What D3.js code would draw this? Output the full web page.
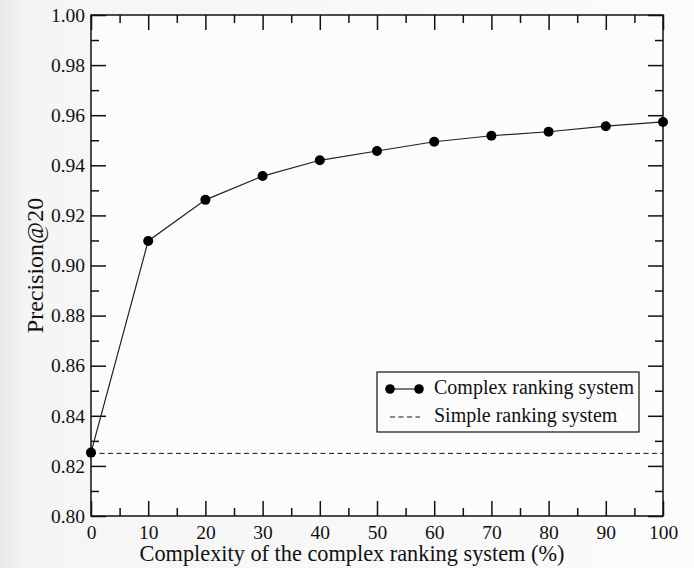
<!DOCTYPE html>
<html>
<head>
<meta charset="utf-8">
<script src="https://cdn.jsdelivr.net/npm/d3@7"></script>
<style>
  html, body { margin: 0; padding: 0; }
  body { width: 694px; height: 568px; overflow: hidden; }
  svg text { font-family: "Liberation Serif", "Times New Roman", serif; fill: #111; }
</style>
</head>
<body>
<svg id="chart" width="694" height="568"></svg>
<script>
// Precision@20 versus the share of the complex ranking system in use
const complexity = [0, 10, 20, 30, 40, 50, 60, 70, 80, 90, 100];
const complexPrecision = [0.8253, 0.9098, 0.9262, 0.9357, 0.9420, 0.9457, 0.9494, 0.9518, 0.9534, 0.9556, 0.9573];
const simplePrecision = 0.8250;
const xTicks = [0, 10, 20, 30, 40, 50, 60, 70, 80, 90, 100];
const yTicks = [0.80, 0.82, 0.84, 0.86, 0.88, 0.90, 0.92, 0.94, 0.96, 0.98, 1.00];
const seriesNames = ["Complex ranking system", "Simple ranking system"];

const W = 694, H = 568;
const m = { left: 91, right: 31, top: 15, bottom: 52 };
const FONT = "'Liberation Serif', 'Times New Roman', serif";
const svg = d3.select("#chart");

// soft page backdrop
const defs = svg.append("defs");
const grad = defs.append("linearGradient").attr("id", "bg").attr("x1", 0).attr("x2", 1).attr("y1", 0).attr("y2", 0);
grad.append("stop").attr("offset", "0").attr("stop-color", "#e8e8e8");
grad.append("stop").attr("offset", "0.04").attr("stop-color", "#f5f5f5");
grad.append("stop").attr("offset", "1").attr("stop-color", "#fbfbfb");
svg.append("rect").attr("width", W).attr("height", H).attr("fill", "url(#bg)");

const x = d3.scaleLinear().domain([0, 100]).range([m.left, W - m.right]);
const y = d3.scaleLinear().domain([0.80, 1.00]).range([H - m.bottom, m.top]);

svg.append("rect")
  .attr("x", x(0)).attr("y", y(1)).attr("width", x(100) - x(0)).attr("height", y(0.8) - y(1))
  .attr("fill", "#fcfcfc");

const major = 15, minor = 8;
const xMinor = d3.range(5, 100, 10);
const yMinor = d3.range(0.81, 1.0, 0.02);

function tickStyle(g) {
  g.select(".domain").remove();
  g.selectAll("line").attr("stroke", "#111").attr("stroke-width", 1.5);
  g.attr("font-family", FONT);
}

// bottom axis (labels) + inward ticks
const bottom = svg.append("g").attr("transform", `translate(0,${y(0.8)})`)
  .call(d3.axisBottom(x).tickValues(xTicks).tickSizeInner(-major).tickSizeOuter(0).tickPadding(9).tickFormat(d3.format("d")));
bottom.call(tickStyle);
bottom.selectAll("text").attr("font-size", 19.5).attr("font-family", FONT);
svg.append("g").attr("transform", `translate(0,${y(0.8)})`)
  .call(d3.axisBottom(x).tickValues(xMinor).tickSizeInner(-minor).tickSizeOuter(0).tickFormat(""))
  .call(tickStyle);

// top mirrored ticks
svg.append("g").attr("transform", `translate(0,${y(1)})`)
  .call(d3.axisTop(x).tickValues(xTicks).tickSizeInner(-major).tickSizeOuter(0).tickFormat(""))
  .call(tickStyle);
svg.append("g").attr("transform", `translate(0,${y(1)})`)
  .call(d3.axisTop(x).tickValues(xMinor).tickSizeInner(-minor).tickSizeOuter(0).tickFormat(""))
  .call(tickStyle);

// left axis (labels) + inward ticks
const left = svg.append("g").attr("transform", `translate(${x(0)},0)`)
  .call(d3.axisLeft(y).tickValues(yTicks).tickSizeInner(-major).tickSizeOuter(0).tickPadding(6).tickFormat(d3.format(".2f")));
left.call(tickStyle);
left.selectAll("text").attr("font-size", 19.5).attr("font-family", FONT);
svg.append("g").attr("transform", `translate(${x(0)},0)`)
  .call(d3.axisLeft(y).tickValues(yMinor).tickSizeInner(-minor).tickSizeOuter(0).tickFormat(""))
  .call(tickStyle);

// right mirrored ticks
svg.append("g").attr("transform", `translate(${x(100)},0)`)
  .call(d3.axisRight(y).tickValues(yTicks).tickSizeInner(-major).tickSizeOuter(0).tickFormat(""))
  .call(tickStyle);
svg.append("g").attr("transform", `translate(${x(100)},0)`)
  .call(d3.axisRight(y).tickValues(yMinor).tickSizeInner(-minor).tickSizeOuter(0).tickFormat(""))
  .call(tickStyle);

// frame
svg.append("rect")
  .attr("x", x(0)).attr("y", y(1)).attr("width", x(100) - x(0)).attr("height", y(0.8) - y(1))
  .attr("fill", "none").attr("stroke", "#111").attr("stroke-width", 1.5);

// simple ranking system baseline
svg.append("line")
  .attr("x1", x(0)).attr("x2", x(100)).attr("y1", y(simplePrecision)).attr("y2", y(simplePrecision))
  .attr("stroke", "#111").attr("stroke-width", 1).attr("stroke-dasharray", "5,3.5");

// complex ranking system curve
const pts = complexity.map((c, i) => [c, complexPrecision[i]]);
svg.append("path").datum(pts)
  .attr("fill", "none").attr("stroke", "#222").attr("stroke-width", 1.2)
  .attr("d", d3.line().x(d => x(d[0])).y(d => y(d[1])));
svg.append("g").selectAll("circle").data(pts).join("circle")
  .attr("cx", d => x(d[0])).attr("cy", d => y(d[1])).attr("r", 5).attr("fill", "#000");

// axis titles
svg.append("text").attr("x", 352).attr("y", 561)
  .attr("text-anchor", "middle").attr("font-size", 22.3).attr("font-family", FONT)
  .text("Complexity of the complex ranking system (%)");
svg.append("text").attr("transform", `translate(43,${(y(0.8) + y(1)) / 2}) rotate(-90)`)
  .attr("text-anchor", "middle").attr("font-size", 24).attr("font-family", FONT)
  .text("Precision@20");

// legend
const lg = svg.append("g").attr("transform", "translate(377,372)");
lg.append("rect").attr("width", 262).attr("height", 60)
  .attr("fill", "#fcfcfc").attr("stroke", "#111").attr("stroke-width", 1.2);
lg.append("line").attr("x1", 13).attr("x2", 42).attr("y1", 17).attr("y2", 17)
  .attr("stroke", "#222").attr("stroke-width", 1.2);
lg.selectAll("circle.k").data([13, 42]).join("circle")
  .attr("cx", d => d).attr("cy", 17).attr("r", 4.8).attr("fill", "#000");
lg.append("line").attr("x1", 13).attr("x2", 43).attr("y1", 45).attr("y2", 45)
  .attr("stroke", "#111").attr("stroke-width", 1).attr("stroke-dasharray", "5,3.5");
lg.selectAll("text").data(seriesNames).join("text")
  .attr("x", 57).attr("y", (d, i) => 22 + i * 28)
  .attr("font-size", 20).attr("font-family", FONT).text(d => d);
</script>
</body>
</html>
